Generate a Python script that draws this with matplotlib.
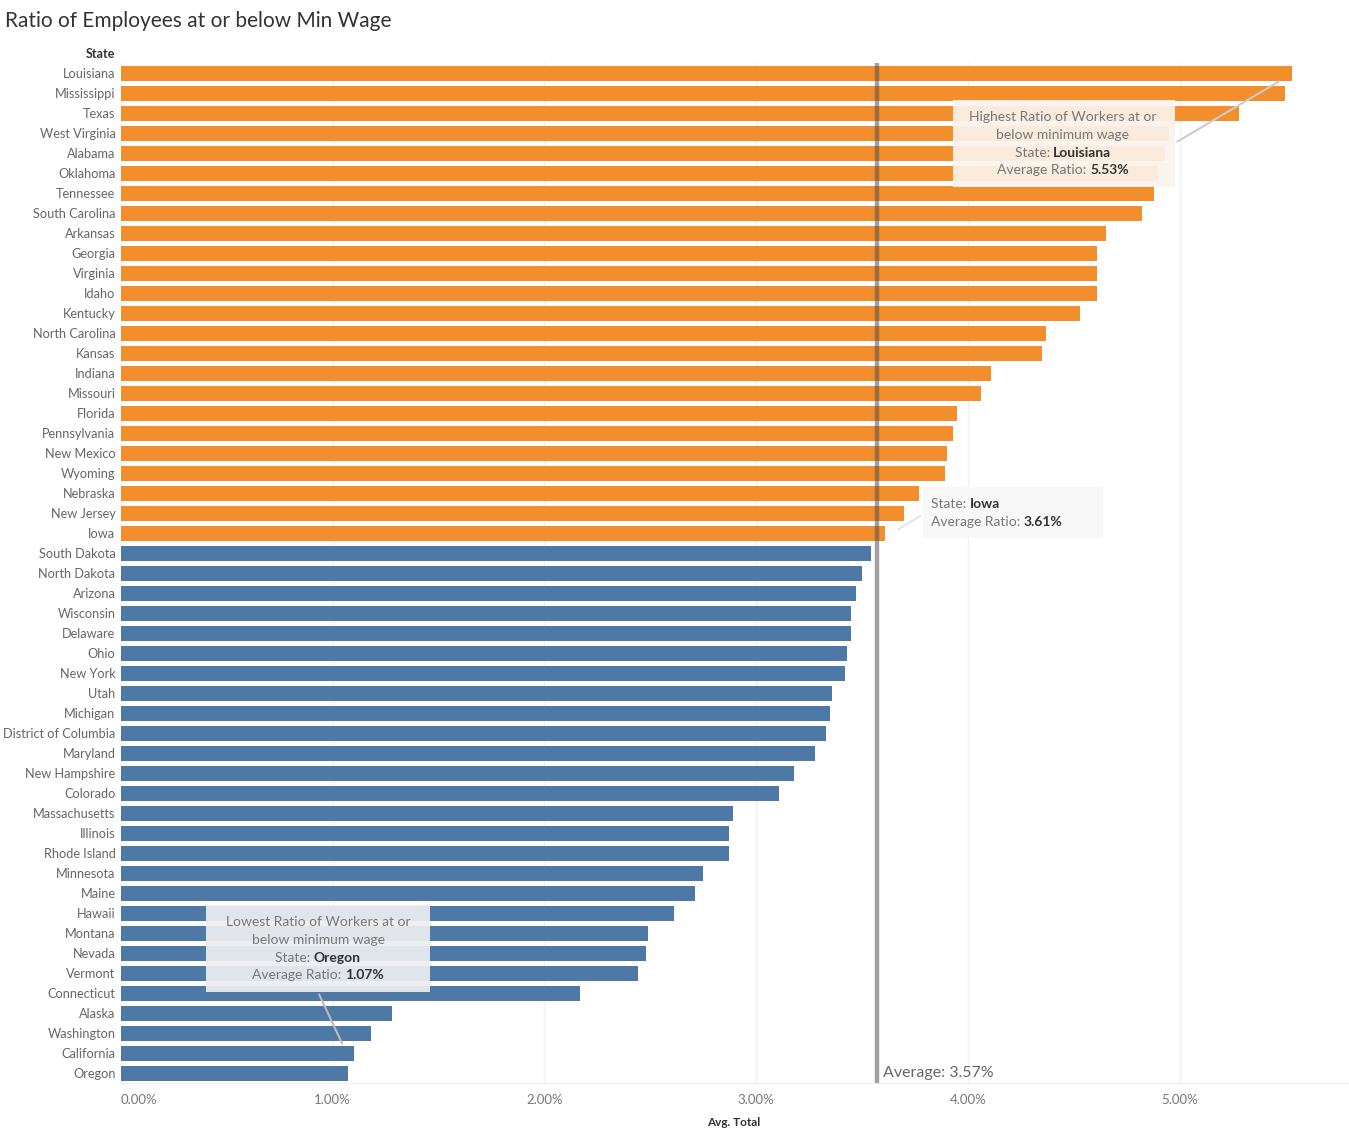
import matplotlib
matplotlib.use("Agg")
import matplotlib.pyplot as plt
from matplotlib.patches import Rectangle
from matplotlib.ticker import FuncFormatter

states = ["Louisiana", "Mississippi", "Texas", "West Virginia", "Alabama", "Oklahoma",
          "Tennessee", "South Carolina", "Arkansas", "Georgia", "Virginia", "Idaho",
          "Kentucky", "North Carolina", "Kansas", "Indiana", "Missouri", "Florida",
          "Pennsylvania", "New Mexico", "Wyoming", "Nebraska", "New Jersey", "Iowa",
          "South Dakota", "North Dakota", "Arizona", "Wisconsin", "Delaware", "Ohio",
          "New York", "Utah", "Michigan", "District of Columbia", "Maryland",
          "New Hampshire", "Colorado", "Massachusetts", "Illinois", "Rhode Island",
          "Minnesota", "Maine", "Hawaii", "Montana", "Nevada", "Vermont", "Connecticut",
          "Alaska", "Washington", "California", "Oregon"]
ratios = [5.53, 5.50, 5.28, 4.95, 4.93, 4.90,
          4.88, 4.82, 4.65, 4.61, 4.61, 4.61,
          4.53, 4.37, 4.35, 4.11, 4.06, 3.95,
          3.93, 3.90, 3.89, 3.77, 3.70, 3.61,
          3.54, 3.50, 3.47, 3.45, 3.45, 3.43,
          3.42, 3.36, 3.35, 3.33, 3.28,
          3.18, 3.11, 2.89, 2.87, 2.87,
          2.75, 2.71, 2.61, 2.49, 2.48, 2.44, 2.17,
          1.28, 1.18, 1.10, 1.07]
average = 3.57
xticks = [0, 1, 2, 3, 4, 5]

ORANGE = "#F28E2B"
BLUE = "#4E79A7"
FONT = ["Lato", "DejaVu Sans"]
plt.rcParams["font.family"] = FONT

W, H = 1349, 1138
fig = plt.figure(figsize=(W / 100, H / 100), dpi=100)
ax = fig.add_axes([121 / W, 1 - 1083 / H, (1349 - 121) / W, (1083 - 63) / H])

def fx(px):
    return px / W

def fy(py):
    return 1 - py / H

ys = list(range(len(states)))
colors = [ORANGE if r > average else BLUE for r in ratios]
ax.barh(ys, ratios, height=0.75, color=colors, zorder=2)
ax.set_ylim(len(states) - 0.5, -0.5)
ax.set_xlim(0, 5.8)
ax.set_yticks(ys)
ax.set_yticklabels(states, fontsize=9.2, color="#666666")
ax.set_xticks(xticks)
ax.xaxis.set_major_formatter(FuncFormatter(lambda v, p: f"{v:.2f}%"))
ax.tick_params(axis="x", labelsize=9.5, labelcolor="#777777", length=0, pad=8)
ax.tick_params(axis="y", length=0, pad=4)
ax.get_xticklabels()[0].set_horizontalalignment("left")
ax.grid(axis="x", color="#f0f0f0", linewidth=1, zorder=0)
for s in ["top", "right", "left"]:
    ax.spines[s].set_visible(False)
ax.spines["bottom"].set_color("#eeeeee")

# Average reference line
ax.axvline(average, color="#555555", alpha=0.55, linewidth=3.2, zorder=3)
ax.text(average + 0.03, len(states) - 0.5 - 0.15, f"Average: {average:.2f}%",
        fontsize=11.5, color="#666666", ha="left", va="bottom", zorder=4)

fig.text(fx(5), fy(21), "Ratio of Employees at or below Min Wage", fontsize=15,
         color="#333333", ha="left", va="center")
fig.text(fx(115), fy(54), "State", fontsize=9, fontweight="bold", color="#333333",
         ha="right", va="center")
fig.text(fx(734), fy(1122), "Avg. Total", fontsize=8.5, fontweight="bold",
         color="#333333", ha="center", va="center")

def box(x0, y0, x1, y1, face):
    fig.patches.append(Rectangle((fx(x0), fy(y1)), fx(x1) - fx(x0), fy(y0) - fy(y1),
                                 transform=fig.transFigure, facecolor=face,
                                 edgecolor="none", alpha=0.93, zorder=5))

ANN_FS = 10

def line_text(x, y, parts, ha="center"):
    if len(parts) == 1:
        fig.text(fx(x), fy(y), parts[0][0], fontsize=ANN_FS, color="#777777", ha=ha,
                 va="center", zorder=6)
        return
    lab, val = parts[0][0], parts[1][0]
    t1 = fig.text(fx(x), fy(y), lab, fontsize=ANN_FS, color="#777777", ha="left",
                  va="center", zorder=6)
    t2 = fig.text(fx(x), fy(y), val, fontsize=ANN_FS, color="#333333", fontweight="bold",
                  ha="left", va="center", zorder=6)
    fig.canvas.draw()
    r = fig.canvas.get_renderer()
    w1 = t1.get_window_extent(r).width
    w2 = t2.get_window_extent(r).width
    start = x - (w1 + w2) / 2 if ha == "center" else x
    t1.set_position((fx(start), fy(y)))
    t2.set_position((fx(start + w1), fy(y)))

# Highest annotation
hi = 0
box(953, 100, 1175, 187, "#fbf3ec")
ax.annotate("", xy=(ratios[hi] - 0.05, hi + 0.35), xycoords="data",
            xytext=(fx(1175), fy(143)), textcoords="figure fraction",
            arrowprops=dict(arrowstyle="-", color="#cccccc", lw=1.5), zorder=6)
line_text(1063, 117, [("Highest Ratio of Workers at or", False)])
line_text(1063, 135, [("below minimum wage", False)])
line_text(1063, 153, [("State: ", False), (states[hi], True)])
line_text(1063, 170, [("Average Ratio: ", False), (f"{ratios[hi]:.2f}%", True)])

# Iowa annotation
io = states.index("Iowa")
box(923, 487, 1103, 538, "#f8f8f8")
ax.annotate("", xy=(ratios[io] + 0.05, io - 0.1), xycoords="data",
            xytext=(fx(923), fy(514)), textcoords="figure fraction",
            arrowprops=dict(arrowstyle="-", color="#dddddd", lw=1), zorder=6)
line_text(931, 504, [("State: ", False), (states[io], True)], ha="left")
line_text(931, 522, [("Average Ratio: ", False), (f"{ratios[io]:.2f}%", True)], ha="left")

# Lowest annotation
lo = len(states) - 1
box(206, 905, 430, 992, "#eceef2")
ax.annotate("", xy=(ratios[lo] - 0.02, lo - 1.35), xycoords="data",
            xytext=(fx(318), fy(992)), textcoords="figure fraction",
            arrowprops=dict(arrowstyle="-", color="#bbbbbb", lw=1.5), zorder=6)
line_text(318, 922, [("Lowest Ratio of Workers at or", False)])
line_text(318, 940, [("below minimum wage", False)])
line_text(318, 958, [("State: ", False), (states[lo], True)])
line_text(318, 975, [("Average Ratio: ", False), (f"{ratios[lo]:.2f}%", True)])

fig.savefig("out.png", dpi=100)
